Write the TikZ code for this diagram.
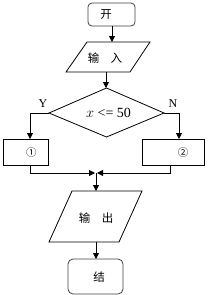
\documentclass[tikz,border=0pt]{standalone}
\usepackage{fontspec}
\setmainfont{Liberation Serif}
\newfontfamily\cjk{Noto Sans CJK SC}
\usetikzlibrary{arrows.meta}
\begin{document}
\begin{tikzpicture}[x=1pt,y=-1pt,line width=0.8pt,
  box/.style={draw,line width=0.8pt},
  conn/.style={draw,line width=0.8pt},
  arr/.style={conn,-{Triangle[length=6pt,width=6pt]}},
  cjktxt/.style={font=\cjk\fontsize{11.5}{13}\selectfont,inner sep=0pt},
  lbl/.style={font=\fontsize{12}{14}\selectfont,inner sep=0pt}]
\useasboundingbox (0,0) rectangle (207,295);
% start
\draw[box,rounded corners=4pt,draw=black!75] (88,3) rectangle (135,26);
\node[cjktxt] (start) at (106,15) {开};
\coordinate (startb) at (112,26);
% input
\draw[box] (87,42) -- (150,42) -- (130,72) -- (66,72) -- cycle;
\node[cjktxt] (inp) at (105,58.5) {输\hspace{1em}入};
\coordinate (inpt) at (112,42);
\coordinate (inpb) at (106,72);
% decision
\coordinate (dt) at (106.5,88);
\coordinate (dr) at (164,113);
\coordinate (db) at (106.5,137);
\coordinate (dl) at (49,113);
\draw[box] (dt) -- (dr) -- (db) -- (dl) -- cycle;
\node[lbl,font=\fontsize{14}{16}\selectfont] (cond) at (108.5,113) {$x$ <= 50};
\node[lbl] (Y) at (43,104) {Y};
\node[lbl] (N) at (173,104) {N};
% branch boxes
\draw[box] (3,139) rectangle (48,165);
\node[cjktxt,font=\cjk\fontsize{10.5}{12}\selectfont] (one) at (31.5,153) {①};
\coordinate (onet) at (30,139);
\coordinate (oneb) at (30,165);
\draw[box] (142,139) rectangle (204,165);
\node[cjktxt,font=\cjk\fontsize{10.5}{12}\selectfont] (two) at (183,153) {②};
\coordinate (twot) at (179,139);
\coordinate (twob) at (170,165);
% merge
\coordinate (mL) at (95,173);
\coordinate (mR) at (97,173);
\coordinate (m) at (96,173);
% output
\draw[box] (72,191) -- (142,191) -- (119,242) -- (49,242) -- cycle;
\node[cjktxt] (out) at (96,218) {输\hspace{1em}出};
\coordinate (outt) at (96,191);
\coordinate (outb) at (96,242);
% end
\draw[box,rounded corners=5pt,draw=black!75] (68,259) rectangle (123,294);
\node[cjktxt] (end) at (99,277) {结};
\coordinate (endt) at (96,259);
% connectors
\draw[arr] (startb) -- (inpt);
\draw[arr] (inpb) -- (inpb |- dt);
\draw[arr] (dl) -| (onet);
\draw[arr] (dr) -| (twot);
\draw[arr] (oneb) |- (mL);
\draw[arr] (twob) |- (mR);
\draw[arr] (m) -- (outt);
\draw[arr] (outb) -- (endt);
\end{tikzpicture}
\end{document}
